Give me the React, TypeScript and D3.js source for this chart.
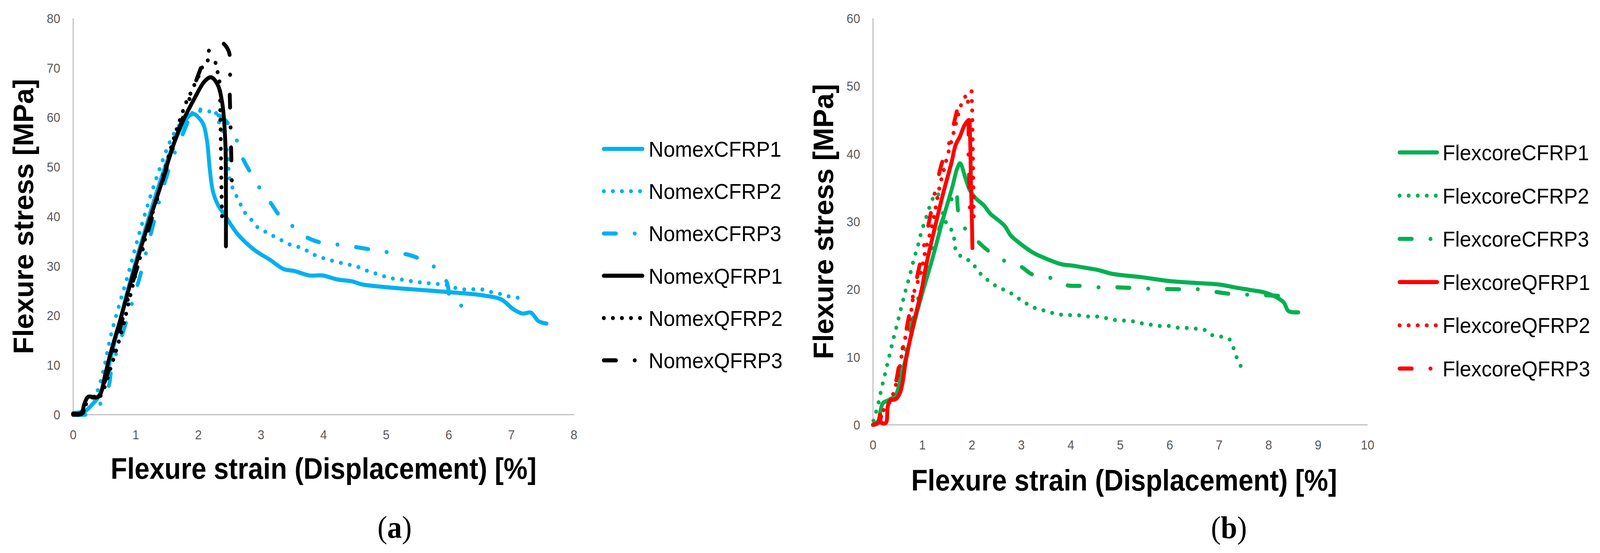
import { useEffect } from 'react';
import * as d3 from 'd3';

type Pt = [number, number];

// ---- panel (a): Nomex core, strain [%] vs stress [MPa] ----
const nomexCFRP1: Pt[] = [
  [0, 0.3], [0.12, 0.5], [0.2, 0.8], [0.3, 2], [0.4, 3.5], [0.5, 6.5], [0.6, 11.5], [0.75, 19],
  [0.87, 25], [1.13, 36.5], [1.4, 47.5], [1.6, 54.5], [1.75, 58.5], [1.85, 60.3], [1.93, 60.7],
  [2.0, 60], [2.08, 58.6], [2.14, 55.1], [2.18, 49.8], [2.23, 45.2], [2.31, 42.4], [2.42, 40.3],
  [2.63, 36.4], [2.89, 33.3], [3.15, 31.2], [3.36, 29.4], [3.53, 29.0], [3.77, 28.1], [3.98, 28.1],
  [4.22, 27.3], [4.46, 26.9], [4.61, 26.3], [5.03, 25.7], [5.63, 25.1], [6.23, 24.5], [6.53, 24.1],
  [6.83, 23.3], [7.04, 21.2], [7.18, 20.4], [7.31, 20.6], [7.43, 18.9], [7.56, 18.4],
];
const nomexCFRP2: Pt[] = [
  [0, 0], [0.1, 0.3], [0.2, 0.8], [0.3, 2.2], [0.4, 5.2], [0.476, 8.5], [0.61, 16.4], [0.87, 28],
  [1.1, 38.5], [1.35, 48.5], [1.6, 56.5], [1.8, 60], [1.95, 61.2], [2.04, 61.6], [2.18, 61.2],
  [2.26, 61.5], [2.3, 59.9], [2.39, 57.2], [2.47, 52.3], [2.49, 48.4], [2.53, 46.3], [2.59, 44.6],
  [2.66, 42.8], [2.73, 41], [2.83, 39.6], [2.93, 38], [3.06, 37], [3.19, 36.1], [3.33, 35.2],
  [3.47, 34.3], [3.61, 33.8], [3.75, 33], [3.88, 32.1], [4.02, 31.5], [4.16, 31], [4.32, 30.5],
  [4.47, 30.1], [4.6, 29.6], [4.74, 28.8], [4.89, 28.3], [5.04, 27.6], [5.18, 27.4], [5.33, 27.1],
  [5.48, 26.8], [5.63, 26.6], [5.78, 26.4], [5.93, 26.3], [6.07, 25.7], [6.22, 25.3], [6.37, 25.3],
  [6.52, 25.3], [6.66, 24.8], [6.81, 24.4], [6.95, 23.9], [7.1, 23.6],
];
const nomexCFRP3: Pt[] = [
  [0, 0], [0.2, 0], [0.3, 0.5], [0.45, 2.5], [0.57, 5.9], [0.61, 9], [0.79, 16.4], [1.0, 25],
  [1.08, 28.5], [1.16, 32.5], [1.41, 44.7], [1.5, 48.4], [1.58, 51.6], [1.7, 55.1], [1.815, 58.6],
  [1.894, 60.9], [2.0, 61.3], [2.2, 61], [2.38, 60], [2.46, 59], [2.59, 56.2], [2.68, 52.5],
  [2.83, 48.9], [2.95, 46.3], [3.13, 43.2], [3.31, 40], [3.49, 38.2], [3.73, 35.8], [4.0, 34.6],
  [4.25, 34.3], [4.53, 33.8], [4.82, 33.2], [5.07, 32.7], [5.35, 32.3], [5.61, 31], [5.82, 29.3],
  [5.97, 26.7], [6.04, 22.8], [6.26, 21.9],
];
const nomexQFRP1: Pt[] = [
  [0, 0.2], [0.13, 0.35], [0.18, 2.2], [0.24, 3.6], [0.38, 3.5], [0.44, 4.3], [0.5, 7.4],
  [0.57, 11.1], [0.67, 15.6], [0.75, 19], [0.87, 24.5], [1.13, 35.7], [1.4, 46.3], [1.68, 57.2],
  [1.94, 63.9], [2.1, 67.3], [2.2, 68.1], [2.3, 66.8], [2.38, 63], [2.43, 55], [2.44, 44.6], [2.44, 34],
];
const nomexQFRP2: Pt[] = [
  [0, 0], [0.15, 0.5], [0.22, 2.5], [0.3, 3.5], [0.42, 3.6], [0.5, 5.5], [0.6, 9.5], [0.69, 13.1],
  [0.8, 18], [0.95, 26], [1.15, 35.5], [1.4, 46.5], [1.6, 55.5], [1.71, 59.7], [1.81, 63.2],
  [1.88, 65], [1.94, 66.7], [2.01, 68.5], [2.1, 71], [2.2, 71.7], [2.28, 70.9], [2.31, 68.9],
  [2.34, 66.9], [2.35, 60.8], [2.37, 44.6], [2.38, 38.7],
];
const nomexQFRP3: Pt[] = [
  [0, 0], [0.15, 0.3], [0.2, 2.5], [0.3, 3.5], [0.4, 3.8], [0.5, 6.5], [0.6, 10.5], [0.75, 17.5],
  [0.9, 24.5], [1.15, 35], [1.4, 46], [1.65, 56], [1.85, 63.5], [2.025, 69.5], [2.11, 72.4],
  [2.33, 75.3], [2.48, 73.5], [2.5, 65], [2.52, 55], [2.54, 44],
];

// ---- panel (b): Flexcore core ----
const flexCFRP1: Pt[] = [
  [0, 0], [0.1, 0.3], [0.15, 2], [0.2, 3.2], [0.3, 3.6], [0.45, 4.3], [0.55, 6.5], [0.7, 11],
  [0.85, 15.5], [1.0, 19.5], [1.2, 24.5], [1.42, 30.5], [1.6, 35], [1.7, 37.8], [1.76, 38.6],
  [1.87, 36.4], [1.96, 34.6], [2.07, 33.5], [2.24, 32.4], [2.38, 31.1], [2.5, 30.4], [2.67, 29.3],
  [2.78, 28], [2.95, 26.9], [3.24, 25.4], [3.54, 24.4], [3.81, 23.7], [4.03, 23.5], [4.28, 23.2],
  [4.58, 22.8], [4.83, 22.3], [5.42, 21.8], [6.02, 21.2], [6.64, 20.9], [7.01, 20.7], [7.38, 20.2],
  [7.63, 19.9], [7.98, 19.4], [8.3, 18.1], [8.4, 16.8], [8.6, 16.6],
];
const flexCFRP2: Pt[] = [
  [0.01, 0.6], [0.045, 1.5], [0.1, 2.9], [0.144, 4.4], [0.19, 5.9], [0.24, 7.4], [0.285, 8.8],
  [0.335, 10.3], [0.38, 11.7], [0.43, 13.2], [0.48, 14.6], [0.53, 16.1], [0.58, 17.6], [0.63, 19],
  [0.68, 20.4], [0.74, 21.9], [0.79, 23.4], [0.84, 24.8], [0.9, 26.2], [0.95, 27.7], [1.01, 29.2],
  [1.07, 30.5], [1.136, 32], [1.21, 33.4], [1.3, 34.2], [1.4, 31.5], [1.5, 29.5], [1.61, 28.5],
  [1.65, 27], [1.686, 25.5], [1.84, 24.6], [2.0, 24], [2.11, 22.8], [2.25, 21.8], [2.4, 20.9],
  [2.56, 20.2], [2.73, 19.7], [2.89, 18.9], [3.06, 18.1], [3.22, 17.4], [3.4, 17], [3.58, 16.6],
  [3.76, 16.3], [3.94, 16.2], [4.13, 16.2], [4.31, 16], [4.5, 16], [4.68, 15.8], [4.86, 15.5],
  [5.05, 15.4], [5.24, 15.3], [5.42, 15], [5.6, 14.8], [5.78, 14.6], [5.97, 14.6], [6.15, 14.35],
  [6.34, 14.3], [6.52, 14.2], [6.71, 14], [6.87, 13.2], [7.05, 13], [7.21, 12.6], [7.29, 11.3],
  [7.36, 9.8], [7.44, 8.6],
];
const flexCFRP3: Pt[] = [
  [0, 0], [0.1, 0.5], [0.2, 2.5], [0.35, 3.7], [0.5, 5.5], [0.7, 12.5], [1.0, 21], [1.2, 26],
  [1.43, 30.7], [1.6, 33.5], [1.68, 34.8], [1.7, 33.6], [1.73, 31.2], [1.84, 29.2], [2.1, 27.2],
  [2.33, 25.7], [2.63, 24.3], [2.98, 23.4], [3.22, 22.2], [3.58, 21.7], [3.92, 20.6], [4.22, 20.5],
  [4.56, 20.3], [4.93, 20.3], [5.25, 20.2], [5.59, 20.1], [5.93, 20.05], [6.28, 20], [6.61, 20],
  [6.95, 19.6], [7.26, 19.3], [7.62, 19.2], [8.03, 19.1], [8.3, 19.0],
];
const flexQFRP1: Pt[] = [
  [0, 0], [0.12, 0.4], [0.14, 1.5], [0.17, 0.3], [0.26, 0.3], [0.3, 2.8], [0.35, 3.6], [0.46, 3.8],
  [0.54, 4.6], [0.6, 6.3], [0.66, 9.3], [0.81, 14.6], [0.99, 20.2], [1.07, 23.4], [1.25, 29.1],
  [1.42, 34.2], [1.59, 38.8], [1.67, 41.3], [1.76, 42.6], [1.85, 44.2], [1.94, 45], [1.96, 43],
  [1.98, 36], [2.0, 30], [2.01, 26.1],
];
const flexQFRP2: Pt[] = [
  [0, 0], [0.1, 0.5], [0.15, 1.5], [0.25, 2.5], [0.35, 3.5], [0.5, 7], [0.615, 11.7], [0.75, 15.8],
  [0.838, 19.8], [0.95, 22], [1.07, 26], [1.17, 28.7], [1.22, 30.2], [1.33, 34.6], [1.43, 37.6],
  [1.59, 42], [1.69, 44.8], [1.78, 47.2], [1.88, 48.6], [1.985, 49.3], [2.0, 47.5], [2.01, 44.7],
  [2.02, 40], [2.03, 35], [2.04, 29.6],
];
const flexQFRP3: Pt[] = [
  [0, 0], [0.1, 0.3], [0.2, 1.8], [0.35, 3.5], [0.466, 6.4], [0.53, 8.9], [0.69, 14.6], [0.75, 16.9],
  [0.917, 22.7], [0.99, 25.1], [1.16, 30.9], [1.216, 33.1], [1.4, 38.8], [1.515, 41], [1.62, 44],
  [1.72, 46.8], [1.8, 47.8], [1.9, 48], [1.93, 46], [1.93, 40], [1.95, 35], [1.96, 31],
];

const xTicksA = [0, 1, 2, 3, 4, 5, 6, 7, 8];
const yTicksA = [0, 10, 20, 30, 40, 50, 60, 70, 80];
const xTicksB = [0, 1, 2, 3, 4, 5, 6, 7, 8, 9, 10];
const yTicksB = [0, 10, 20, 30, 40, 50, 60];

const namesA = ['NomexCFRP1', 'NomexCFRP2', 'NomexCFRP3', 'NomexQFRP1', 'NomexQFRP2', 'NomexQFRP3'];
const namesB = ['FlexcoreCFRP1', 'FlexcoreCFRP2', 'FlexcoreCFRP3', 'FlexcoreQFRP1', 'FlexcoreQFRP2', 'FlexcoreQFRP3'];

const CYAN = '#00B0F0';
const BLACK = '#000000';
const GREEN = '#00B050';
const RED = '#FF0000';

type Style = 'solid' | 'dot' | 'dashDot';
const dashFor: Record<Style, string | undefined> = {
  solid: undefined,
  dot: '0.1 24.5',
  dashDot: '33 51 0.1 51',
};

interface Series {
  name: string;
  color: string;
  style: Style;
  data: Pt[];
}

const seriesA: Series[] = [
  { name: namesA[0], color: CYAN, style: 'solid', data: nomexCFRP1 },
  { name: namesA[1], color: CYAN, style: 'dot', data: nomexCFRP2 },
  { name: namesA[2], color: CYAN, style: 'dashDot', data: nomexCFRP3 },
  { name: namesA[3], color: BLACK, style: 'solid', data: nomexQFRP1 },
  { name: namesA[4], color: BLACK, style: 'dot', data: nomexQFRP2 },
  { name: namesA[5], color: BLACK, style: 'dashDot', data: nomexQFRP3 },
];
const seriesB: Series[] = [
  { name: namesB[0], color: GREEN, style: 'solid', data: flexCFRP1 },
  { name: namesB[1], color: GREEN, style: 'dot', data: flexCFRP2 },
  { name: namesB[2], color: GREEN, style: 'dashDot', data: flexCFRP3 },
  { name: namesB[3], color: RED, style: 'solid', data: flexQFRP1 },
  { name: namesB[4], color: RED, style: 'dot', data: flexQFRP2 },
  { name: namesB[5], color: RED, style: 'dashDot', data: flexQFRP3 },
];

const W = 4351;
const H = 1415;
const SANS = '"Liberation Sans", Arial, sans-serif';
const LINE_W = 10.5;

interface PanelProps {
  series: Series[];
  xTicks: number[];
  yTicks: number[];
  box: { left: number; right: number; top: number; bottom: number };
  yTitleX: number;
  xTitleX: number;
  xTitleY: number;
  legend: { x0: number; x1: number; textX: number; y0: number; step: number };
  caption: { label: string; x: number; y: number };
}

function Panel({ series, xTicks, yTicks, box, yTitleX, xTitleX, xTitleY, legend, caption }: PanelProps) {
  const x = d3.scaleLinear().domain([xTicks[0], xTicks[xTicks.length - 1]]).range([box.left, box.right]);
  const y = d3.scaleLinear().domain([yTicks[0], yTicks[yTicks.length - 1]]).range([box.bottom, box.top]);
  const line = d3
    .line<Pt>()
    .x((d) => x(d[0]))
    .y((d) => y(d[1]))
    .curve(d3.curveCatmullRom.alpha(0.5));

  return (
    <g>
      {/* axes */}
      <line x1={box.left} x2={box.left} y1={box.top} y2={box.bottom} stroke="#BFBFBF" strokeWidth={3} />
      <line x1={box.left} x2={box.right} y1={box.bottom} y2={box.bottom} stroke="#BFBFBF" strokeWidth={3} />
      {yTicks.map((t) => (
        <text key={`y${t}`} x={box.left - 35} y={y(t) + 12} fontSize={33} fontFamily={SANS} fill="#595959" textAnchor="end">
          {t}
        </text>
      ))}
      {xTicks.map((t) => (
        <text key={`x${t}`} x={x(t)} y={box.bottom + 63} fontSize={33} fontFamily={SANS} fill="#595959" textAnchor="middle">
          {t}
        </text>
      ))}
      <text
        transform={`translate(${yTitleX},${(box.top + box.bottom) / 2}) rotate(-90)`}
        fontSize={76}
        fontWeight="bold"
        fontFamily={SANS}
        textAnchor="middle"
        textLength={704}
        lengthAdjust="spacingAndGlyphs"
      >
        Flexure stress [MPa]
      </text>
      <text
        x={xTitleX}
        y={xTitleY}
        fontSize={76}
        fontWeight="bold"
        fontFamily={SANS}
        textLength={1158}
        lengthAdjust="spacingAndGlyphs"
      >
        Flexure strain (Displacement) [%]
      </text>

      {/* series */}
      {series.map((s) => (
        <path
          key={s.name}
          d={line(s.data) ?? ''}
          fill="none"
          stroke={s.color}
          strokeWidth={LINE_W}
          strokeLinecap="round"
          strokeLinejoin="round"
          strokeDasharray={dashFor[s.style]}
        />
      ))}

      {/* legend */}
      {series.map((s, i) => {
        const ly = legend.y0 + i * legend.step;
        return (
          <g key={`lg-${s.name}`}>
            <line
              x1={legend.x0}
              x2={legend.x1}
              y1={ly}
              y2={ly}
              stroke={s.color}
              strokeWidth={LINE_W}
              strokeLinecap="round"
              strokeDasharray={dashFor[s.style]}
            />
            <text x={legend.textX} y={ly + 20} fontSize={56} fontFamily={SANS} fill="#000">
              {s.name}
            </text>
          </g>
        );
      })}

      <text x={caption.x} y={caption.y} fontSize={80} fontFamily='"Liberation Serif", "Times New Roman", serif' textAnchor="middle">
        (<tspan fontWeight="bold">{caption.label}</tspan>)
      </text>
    </g>
  );
}

export default function App() {
  useEffect(() => {
    document.body.style.margin = '0';
    document.body.style.overflow = 'hidden';
  }, []);
  // fill the viewport whatever its real size, keeping the 4351x1415 drawing coordinates
  return (
    <svg
      viewBox={`0 0 ${W} ${H}`}
      preserveAspectRatio="none"
      style={{ position: 'fixed', left: 0, top: 0, width: '100vw', height: '100vh', display: 'block', background: '#fff' }}
    >
      <rect width={W} height={H} fill="#fff" />
      <Panel
        series={seriesA}
        xTicks={xTicksA}
        yTicks={yTicksA}
        box={{ left: 199, right: 1561, top: 47, bottom: 1061 }}
        yTitleX={90}
        xTitleX={301}
        xTitleY={1225}
        legend={{ x0: 1642, x1: 1747, textX: 1764, y0: 381, step: 108.2 }}
        caption={{ label: 'a', x: 1073, y: 1376 }}
      />
      <Panel
        series={seriesB}
        xTicks={xTicksB}
        yTicks={yTicksB}
        box={{ left: 2374, right: 3719, top: 47, bottom: 1087 }}
        yTitleX={2266}
        xTitleX={2478}
        xTitleY={1255}
        legend={{ x0: 3806, x1: 3908, textX: 3923, y0: 390, step: 110.6 }}
        caption={{ label: 'b', x: 3342, y: 1377 }}
      />
    </svg>
  );
}
